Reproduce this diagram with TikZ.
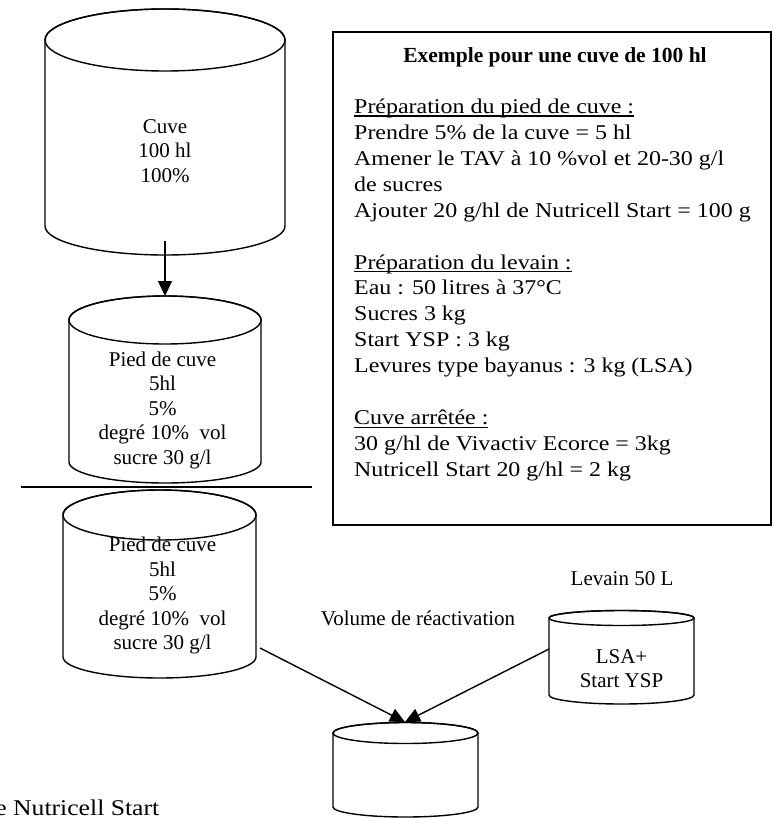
\documentclass[tikz,border=0pt]{standalone}
\usepackage{fontspec}
\setmainfont{Liberation Serif}
\newfontfamily\boxfont[FakeStretch=1.14]{Liberation Serif}
\usetikzlibrary{arrows.meta}
% cx, top centre y, bottom centre y, x radius, top y radius, bottom y radius
\newcommand{\tankshape}[6]{%
  \filldraw[tankline,fill=white] (#1-#4,#2) -- (#1-#4,#3)
    arc[start angle=180,end angle=360,x radius=#4pt,y radius=#6pt]
    -- (#1+#4,#2)
    arc[start angle=0,end angle=180,x radius=#4pt,y radius=#5pt] -- cycle;
  \draw[tankline] (#1,#2) ellipse[x radius=#4pt,y radius=#5pt];
}
\newcommand{\wul}[1]{\setbox0=\hbox{#1}\rlap{\rule[-3.3pt]{\wd0}{1.1pt}}\box0}
\begin{document}
\begin{tikzpicture}[x=1pt,y=1pt,
  tankline/.style={line width=1.4pt},
  conn/.style={line width=1.4pt,-{Triangle[length=15pt,width=14pt]}},
  cyltext/.style={anchor=base,inner sep=0pt,font=\fontsize{21}{25}\selectfont},
  boxline/.style={anchor=base west,inner sep=0pt,font=\boxfont\fontsize{21}{26}\selectfont},
  titletext/.style={anchor=base,inner sep=0pt,font=\bfseries\fontsize{21.5}{26}\selectfont},
  plaintext/.style={anchor=base,inner sep=0pt,font=\fontsize{21}{25}\selectfont}]
\useasboundingbox (0,0) rectangle (773,-818);

% tanks
\tankshape{165}{-40}{-226}{120}{31}{29}
\tankshape{165}{-320}{-462}{96}{24}{21}
\tankshape{159.5}{-515}{-657}{96.5}{25}{21}
\tankshape{621.5}{-618}{-695}{72.5}{7.5}{9}
\tankshape{405.5}{-733}{-807}{72.5}{10.5}{10}

% tank texts
\foreach \t [count=\i from 0] in {{Cuve},{100 hl},{100\%}}
  \node[cyltext] (cuve\i) at (165,{-133.3-24.6*\i}) {\t};
\foreach \t [count=\i from 0] in {{Pied de cuve},{5hl},{5\%},{degré 10\%\ \ vol},{sucre 30 g/l}}
  \node[cyltext] (pieda\i) at (162.5,{-366-24.6*\i}) {\t};
\foreach \t [count=\i from 0] in {{Pied de cuve},{5hl},{5\%},{degré 10\%\ \ vol},{sucre 30 g/l}}
  \node[cyltext] (piedb\i) at (162.5,{-551.5-24.6*\i}) {\t};
\node[cyltext] (lsa1) at (621.5,-663) {LSA+};
\node[cyltext] (lsa2) at (621.5,-687) {Start YSP};

% separator
\coordinate (sepL) at (21,-487);
\coordinate (sepR) at (312,-487);
\draw[line width=1.4pt] (sepL) -- (sepR);

% labels
\node[plaintext] (levain) at (622,-585) {Levain 50 L};
\node[plaintext] (reac) at (418,-625) {Volume de réactivation};
\node[boxline,font=\boxfont\fontsize{22.5}{26}\selectfont] (nutri) at (-4.8,-815) {e Nutricell Start};

% info box
\draw[line width=1.4pt] (333,-32) rectangle (771,-525);
\node[titletext] (title) at (555,-62.5) {Exemple pour une cuve de 100 hl};
\foreach \t [count=\i from 0] in {{\wul{Préparation du pied de cuve :}},{Prendre 5\% de la cuve = 5 hl},{Amener le TAV à 10 \%vol et 20-30 g/l},{de sucres},{Ajouter 20 g/hl de Nutricell Start = 100 g}}
  \node[boxline] (pa\i) at (354,{-113.3-25.95*\i}) {\t};
\foreach \t [count=\i from 0] in {{\wul{Préparation du levain :}},{Eau : 50 litres à 37°C},{Sucres 3 kg},{Start YSP : 3 kg},{Levures type bayanus : 3 kg (LSA)}}
  \node[boxline] (pb\i) at (354,{-269-25.95*\i}) {\t};
\foreach \t [count=\i from 0] in {{\wul{Cuve arrêtée :}},{30 g/hl de Vivactiv Ecorce = 3kg},{Nutricell Start 20 g/hl = 2 kg}}
  \node[boxline] (pc\i) at (354,{-424.7-25.95*\i}) {\t};

% connectors
\coordinate (cuveout) at (165,-241);
\coordinate (piedin) at (165,-296);
\coordinate (piedout) at (260,-648);
\coordinate (levout) at (549,-649);
\coordinate (reacin) at (405,-722);
\draw[conn] (cuveout) -- (piedin);
\draw[conn] (piedout) -- (reacin);
\draw[conn] (levout) -- (reacin);
\end{tikzpicture}
\end{document}
